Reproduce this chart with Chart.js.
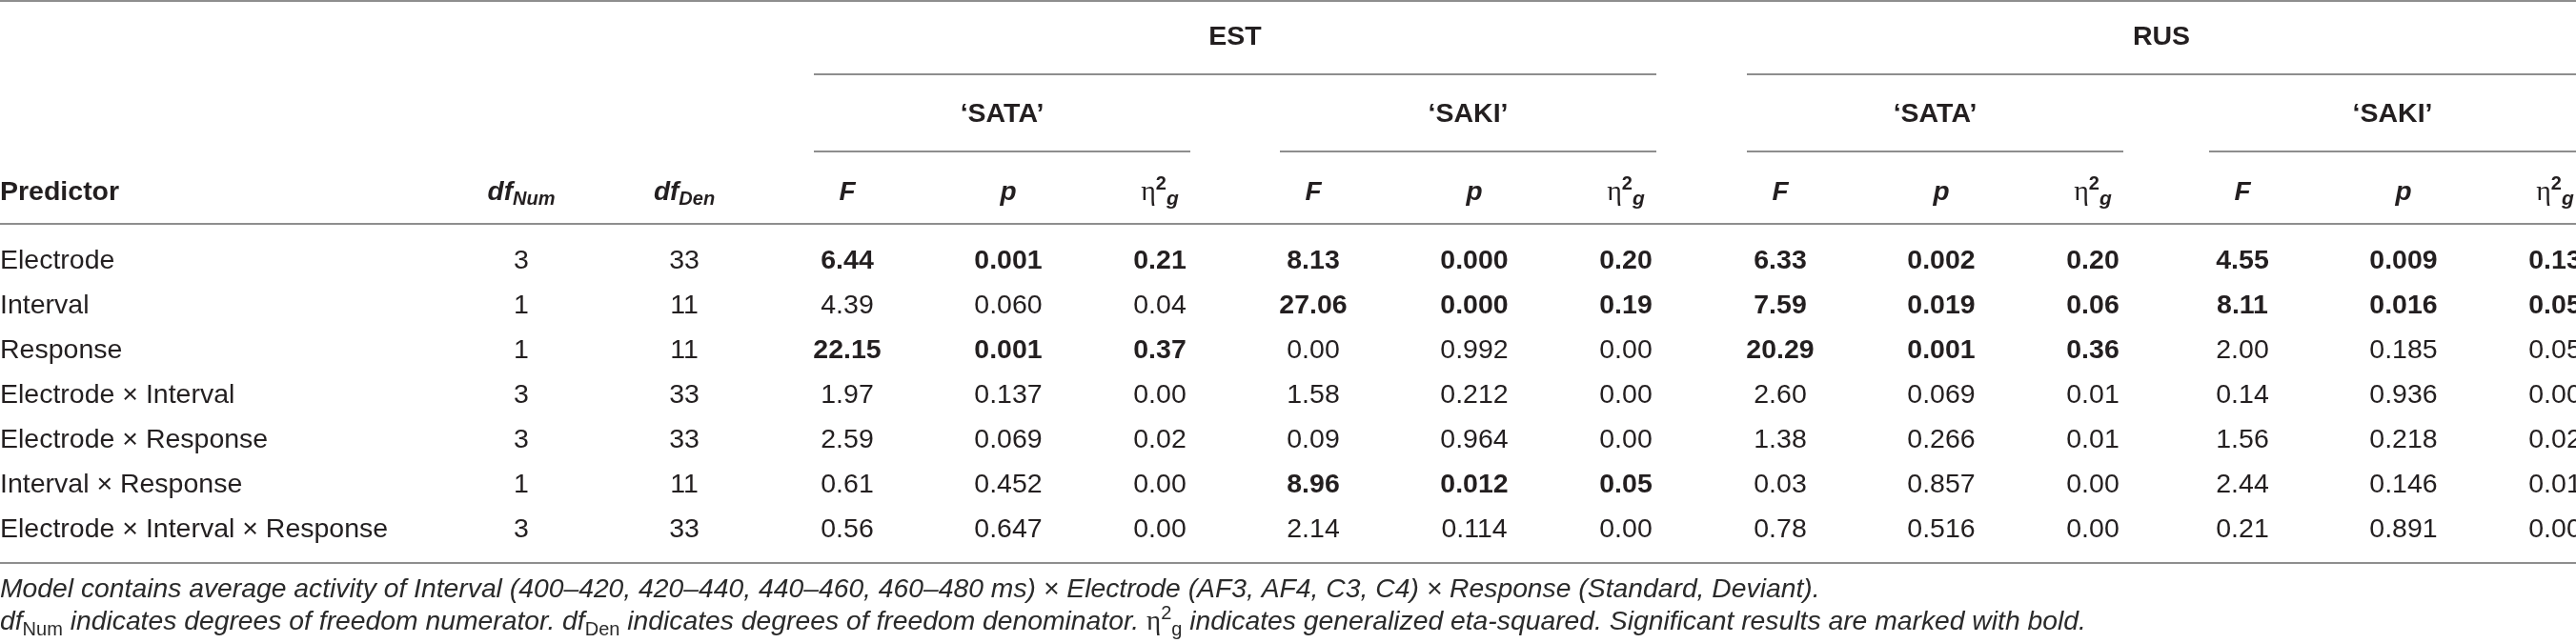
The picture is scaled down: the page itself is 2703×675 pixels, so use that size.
<!DOCTYPE html>
<html>
<head>
<meta charset="utf-8">
<script src="https://cdn.jsdelivr.net/npm/chart.js@4.4.1/dist/chart.umd.min.js"></script>
<style>
  html, body { margin: 0; padding: 0; background: #fff; overflow: hidden; }
  canvas { display: block; }
</style>
</head>
<body>
<canvas id="anovaTable" width="2703" height="675"></canvas>
<script>
// table values
const predictors = ['Electrode', 'Interval', 'Response', 'Electrode × Interval', 'Electrode × Response', 'Interval × Response', 'Electrode × Interval × Response'];
const dfNum = [3, 1, 1, 3, 3, 1, 3];
const dfDen = [33, 11, 11, 33, 33, 11, 33];

const estSataF   = [6.44, 4.39, 22.15, 1.97, 2.59, 0.61, 0.56];
const estSataP   = [0.001, 0.060, 0.001, 0.137, 0.069, 0.452, 0.647];
const estSataEta = [0.21, 0.04, 0.37, 0.00, 0.02, 0.00, 0.00];

const estSakiF   = [8.13, 27.06, 0.00, 1.58, 0.09, 8.96, 2.14];
const estSakiP   = [0.000, 0.000, 0.992, 0.212, 0.964, 0.012, 0.114];
const estSakiEta = [0.20, 0.19, 0.00, 0.00, 0.00, 0.05, 0.00];

const rusSataF   = [6.33, 7.59, 20.29, 2.60, 1.38, 0.03, 0.78];
const rusSataP   = [0.002, 0.019, 0.001, 0.069, 0.266, 0.857, 0.516];
const rusSataEta = [0.20, 0.06, 0.36, 0.01, 0.01, 0.00, 0.00];

const rusSakiF   = [4.55, 8.11, 2.00, 0.14, 1.56, 2.44, 0.21];
const rusSakiP   = [0.009, 0.016, 0.185, 0.936, 0.218, 0.146, 0.891];
const rusSakiEta = [0.13, 0.05, 0.05, 0.00, 0.02, 0.01, 0.00];

const languages = ['EST', 'RUS'];
const stimuli = ['‘SATA’', '‘SAKI’'];
const footnote1 = 'Model contains average activity of Interval (400–420, 420–440, 440–460, 460–480 ms) × Electrode (AF3, AF4, C3, C4) × Response (Standard, Deviant).';

const groups = [
  { F: estSataF, P: estSataP, Eta: estSataEta },
  { F: estSakiF, P: estSakiP, Eta: estSakiEta },
  { F: rusSataF, P: rusSataP, Eta: rusSataEta },
  { F: rusSakiF, P: rusSakiP, Eta: rusSakiEta }
];

// layout (in scale units = canvas px)
const W = 2703, H = 675;
const dfNumX = 547, dfDenX = 718;
const groupStart = [854, 1343, 1833, 2318];
const groupWidth = 395;
const statOffset = [35, 204, 363];   // F, p, eta inside a group
const rowTop = 272, rowStep = 47;
const yLang = 37, yStim = 118, yHead = 200;
const rules = { top: 1, lang: 78, stim: 159, head: 235, bottom: 591 };
const yNote = [617, 651];

const INK = '#231f20';
const RULE = '#8e8e8e';
const SANS = '"Liberation Sans", Arial, sans-serif';
const SERIF = '"Liberation Serif", "Times New Roman", serif';
const fReg = '400 28.5px ' + SANS;
const fBold = '700 28.5px ' + SANS;

const rowY = i => rowTop + i * rowStep;

function column(x, texts, bold, align) {
  return {
    data: texts.map((t, i) => ({ x: x, y: rowY(i) })),
    labels: texts,
    bold: bold,
    align: align || 'center',
    pointRadius: 0,
    showLine: false
  };
}

const noBold = predictors.map(() => false);
const datasets = [
  column(0, predictors, noBold, 'left'),
  column(dfNumX, dfNum.map(String), noBold),
  column(dfDenX, dfDen.map(String), noBold)
];
groups.forEach((g, gi) => {
  const sig = g.P.map(p => p < 0.05);
  datasets.push(column(groupStart[gi] + statOffset[0], g.F.map(v => v.toFixed(2)), sig));
  datasets.push(column(groupStart[gi] + statOffset[1], g.P.map(v => v.toFixed(3)), sig));
  datasets.push(column(groupStart[gi] + statOffset[2], g.Eta.map(v => v.toFixed(2)), sig));
});

function drawRuns(ctx, runs, x, y, align) {
  let total = 0;
  runs.forEach(r => { ctx.font = r.font; r.w = ctx.measureText(r.t).width; total += r.w; });
  let cx = align === 'center' ? x - total / 2 : x;
  ctx.textAlign = 'left';
  runs.forEach(r => {
    ctx.font = r.font;
    ctx.fillText(r.t, cx, y + (r.dy || 0));
    cx += r.w;
  });
}

const etaHead = [
  { t: 'η', font: '400 30px ' + SERIF },
  { t: '2', font: '700 20px ' + SANS, dy: -11 },
  { t: 'g', font: 'italic 700 21px ' + SANS, dy: 5 }
];

const tablePlugin = {
  id: 'tablePlugin',
  afterDatasetsDraw(chart) {
    const ctx = chart.ctx;
    const xs = chart.scales.x, ys = chart.scales.y;
    const px = v => xs.getPixelForValue(v);
    const py = v => ys.getPixelForValue(v);
    ctx.save();
    ctx.fillStyle = INK;
    ctx.textBaseline = 'alphabetic';

    // body cells
    chart.data.datasets.forEach((ds, di) => {
      const meta = chart.getDatasetMeta(di);
      meta.data.forEach((pt, i) => {
        ctx.font = ds.bold[i] ? fBold : fReg;
        ctx.textAlign = ds.align;
        ctx.fillText(ds.labels[i], pt.x, pt.y + 10);
      });
    });

    // spanning headers
    ctx.font = fBold;
    ctx.textAlign = 'center';
    languages.forEach((lang, li) => {
      const x0 = groupStart[li * 2], x1 = Math.min(W, groupStart[li * 2 + 1] + groupWidth);
      ctx.fillText(lang, (px(x0) + px(x1)) / 2, py(yLang) + 10);
    });
    groupStart.forEach((gs, gi) => {
      const x1 = Math.min(W, gs + groupWidth);
      ctx.textAlign = 'center';
      ctx.font = fBold;
      ctx.fillText(stimuli[gi % 2], (px(gs) + px(x1)) / 2, py(yStim) + 10);
    });

    // column headers
    const hb = py(yHead) + 10;
    ctx.textAlign = 'left';
    ctx.font = fBold;
    ctx.fillText('Predictor', px(0), hb);
    drawRuns(ctx, [
      { t: 'df', font: 'italic 700 28px ' + SANS },
      { t: 'Num', font: 'italic 700 20px ' + SANS, dy: 5 }
    ], px(dfNumX), hb, 'center');
    drawRuns(ctx, [
      { t: 'df', font: 'italic 700 28px ' + SANS },
      { t: 'Den', font: 'italic 700 20px ' + SANS, dy: 5 }
    ], px(dfDenX), hb, 'center');
    groupStart.forEach(gs => {
      drawRuns(ctx, [{ t: 'F', font: 'italic 700 28px ' + SANS }], px(gs + statOffset[0]), hb, 'center');
      drawRuns(ctx, [{ t: 'p', font: 'italic 700 28px ' + SANS }], px(gs + statOffset[1]), hb, 'center');
      drawRuns(ctx, etaHead, px(gs + statOffset[2]), hb, 'center');
    });

    // rules
    ctx.fillStyle = RULE;
    const rule = (x0, x1, y) => ctx.fillRect(px(x0), py(y) - 1, px(x1) - px(x0), 2);
    rule(0, W, rules.top);
    rule(0, W, rules.head);
    rule(0, W, rules.bottom);
    rule(groupStart[0], groupStart[1] + groupWidth, rules.lang);
    rule(groupStart[2], W, rules.lang);
    groupStart.forEach(gs => rule(gs, Math.min(W, gs + groupWidth), rules.stim));

    // footnotes
    ctx.fillStyle = '#2a2a2a';
    const fi = 'italic 400 28.3px ' + SANS;
    const fs = '400 20px ' + SANS;
    drawRuns(ctx, [{ t: footnote1, font: fi }], px(0), py(yNote[0]) + 10, 'left');
    drawRuns(ctx, [
      { t: 'df', font: fi }, { t: 'Num', font: fs, dy: 6 },
      { t: ' indicates degrees of freedom numerator. ', font: fi },
      { t: 'df', font: fi }, { t: 'Den', font: fs, dy: 6 },
      { t: ' indicates degrees of freedom denominator. ', font: fi },
      { t: 'η', font: '400 29px ' + SERIF }, { t: '2', font: fs, dy: -11 }, { t: 'g', font: fs, dy: 6 },
      { t: ' indicates generalized eta-squared. Significant results are marked with bold.', font: fi }
    ], px(0), py(yNote[1]) + 10, 'left');
    ctx.restore();
  }
};

new Chart(document.getElementById('anovaTable').getContext('2d'), {
  type: 'scatter',
  data: { datasets: datasets },
  options: {
    responsive: false,
    animation: false,
    devicePixelRatio: 1,
    layout: { padding: 0 },
    events: [],
    plugins: { legend: { display: false }, tooltip: { enabled: false } },
    scales: {
      x: { type: 'linear', min: 0, max: W, display: false },
      y: { type: 'linear', min: 0, max: H, reverse: true, display: false }
    }
  },
  plugins: [tablePlugin]
});
</script>
</body>
</html>
